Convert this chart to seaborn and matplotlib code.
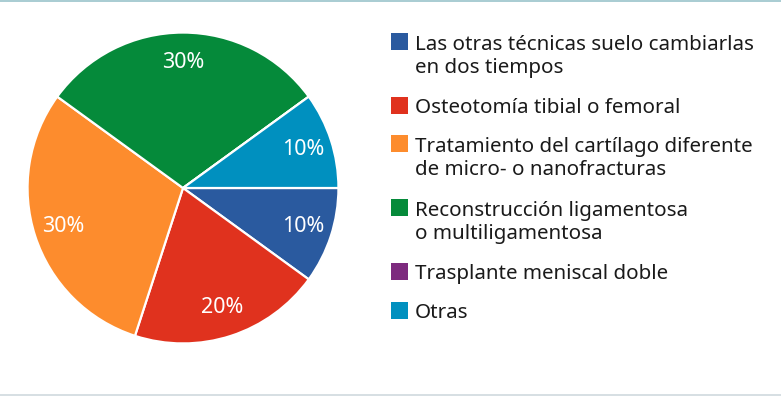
import matplotlib
matplotlib.use("Agg")
import matplotlib.pyplot as plt
from matplotlib.patches import Rectangle
from matplotlib.lines import Line2D
import seaborn as sns

# data
categories = [
    "Las otras técnicas suelo cambiarlas\nen dos tiempos",
    "Osteotomía tibial o femoral",
    "Tratamiento del cartílago diferente\nde micro- o nanofracturas",
    "Reconstrucción ligamentosa\no multiligamentosa",
    "Trasplante meniscal doble",
    "Otras",
]
values = [10, 20, 30, 30, 0, 10]
colors = ["#2a5a9f", "#e0321e", "#fd8c2d", "#058a3a", "#7d2a7e", "#0090bf"]

sns.set_theme(style="white")
plt.rcParams["font.family"] = ["Noto Sans", "DejaVu Sans"]

W, H = 781, 396
fig = plt.figure(figsize=(W / 100, H / 100), dpi=100)
fig.patch.set_facecolor("white")

# pie axes in pixel geometry
cx, cy, r = 183, 188, 157
ax = fig.add_axes([(cx - r) / W, (H - cy - r) / H, 2 * r / W, 2 * r / H])

wedges, texts, autotexts = ax.pie(
    values,
    colors=colors,
    startangle=0,
    counterclock=False,
    autopct=lambda p: f"{p:.0f}%" if p > 0 else "",
    pctdistance=0.81,
    wedgeprops=dict(edgecolor="white", linewidth=1.6),
    textprops=dict(color="white", fontsize=15.5),
)
ax.set_xlim(-1.01, 1.01)
ax.set_ylim(-1.01, 1.01)
ax.axis("off")

# legend drawn by hand
def fx(x):
    return x / W

def fy(y):
    return 1 - y / H

baselines = [49, 113, 151, 215, 279, 318]  # first-line baseline, px from top
line_h = 24
for lab, col, b in zip(categories, colors, baselines):
    n_extra = lab.count("\n")
    fig.add_artist(Rectangle((fx(391), fy(b + 0.5)), 17 / W, 17 / H,
                             transform=fig.transFigure, facecolor=col,
                             edgecolor="none"))
    # multi-line baseline alignment uses the last line
    fig.text(fx(415), fy(b + n_extra * line_h), lab, ha="left", va="baseline",
             fontsize=14.8, color="#1a1a1a", linespacing=1.17)

# frame lines top and bottom
fig.add_artist(Line2D([0, 1], [fy(0.7), fy(0.7)], transform=fig.transFigure,
                      color="#9ac4cb", linewidth=1.2))
fig.add_artist(Line2D([0, 1], [fy(395), fy(395)], transform=fig.transFigure,
                      color="#cfd9de", linewidth=1.2))

fig.savefig("out.png", dpi=100)
